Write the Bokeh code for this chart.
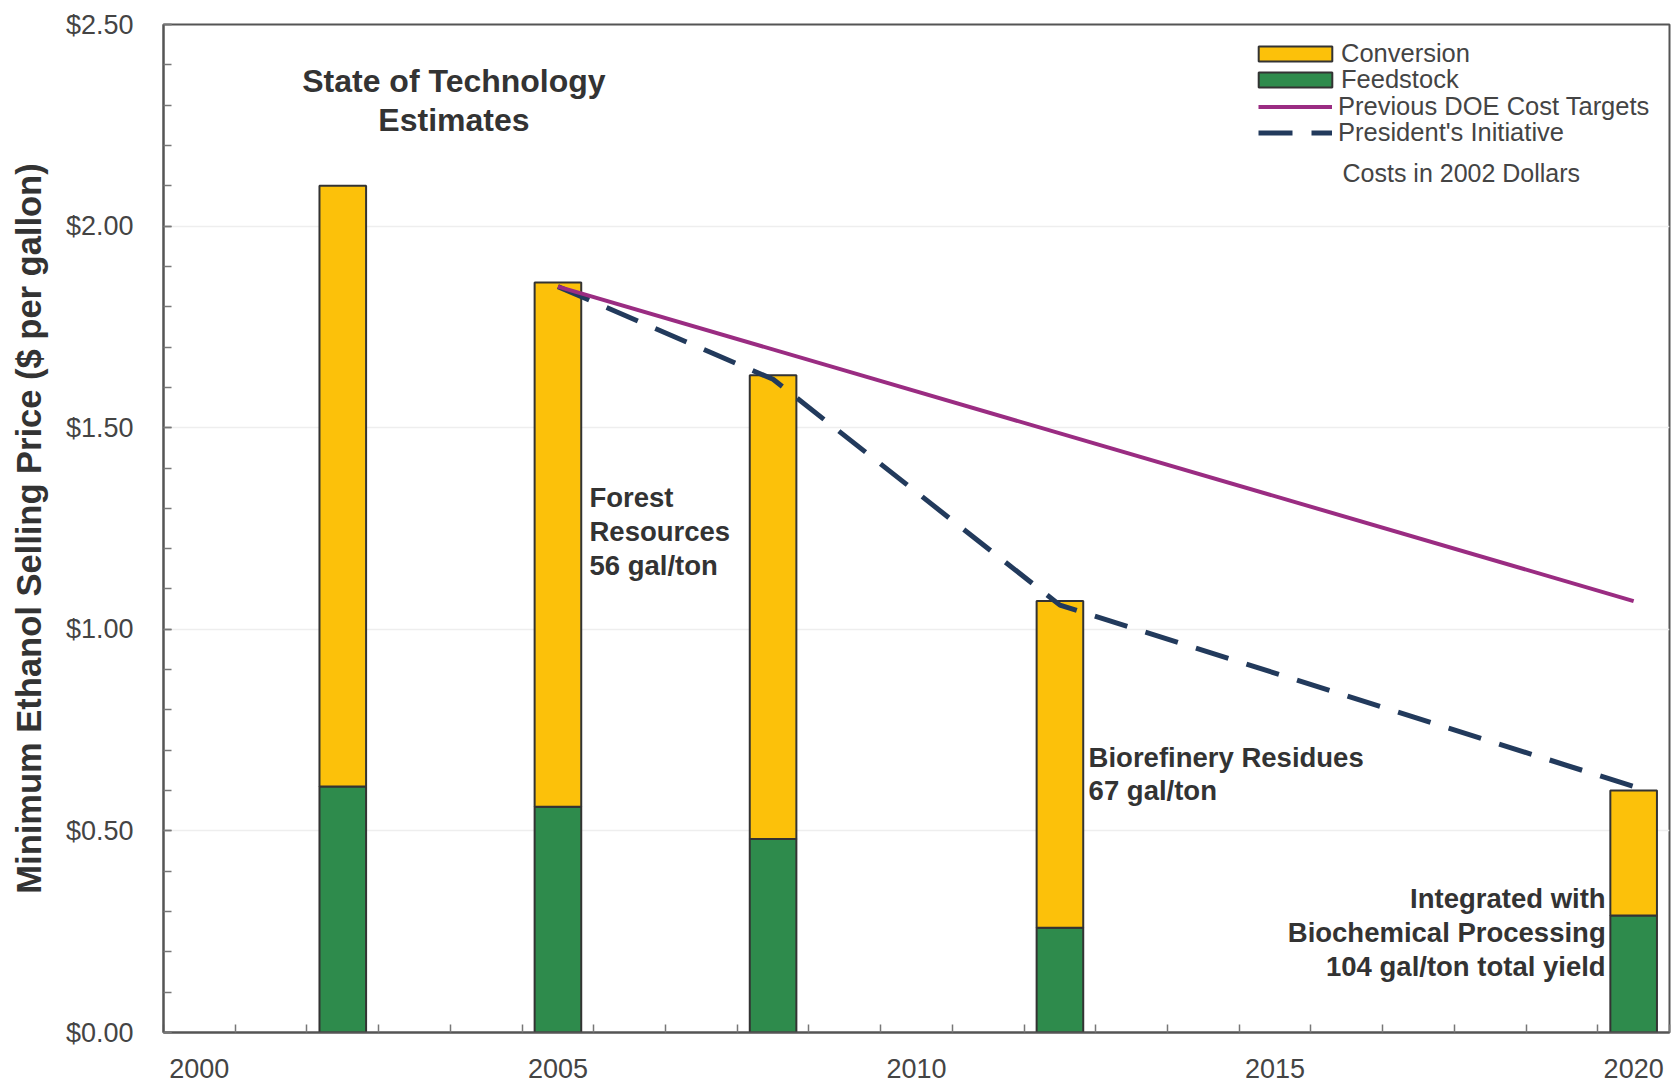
from bokeh.plotting import figure
from bokeh.models import (ColumnDataSource, Label, Legend, LegendItem, FixedTicker,
                          NumeralTickFormatter, Range1d)
from bokeh.embed import file_html
from bokeh.resources import INLINE

# ---- data ----
years = [2002, 2005, 2008, 2012, 2020]
feedstock = [0.61, 0.56, 0.48, 0.26, 0.29]
conversion = [1.49, 1.30, 1.15, 0.81, 0.31]

doe_years = [2005, 2020]
doe_targets = [1.85, 1.07]

pi_years = [2005, 2008, 2012, 2020]
pi_targets = [1.85, 1.62, 1.06, 0.61]

x_labels = [2000, 2005, 2010, 2015, 2020]
y_labels = [0.0, 0.5, 1.0, 1.5, 2.0, 2.5]

FONT = "Liberation Sans"
YELLOW = "#FCC10A"
GREEN = "#2E8B4C"
PURPLE = "#9A2C82"
NAVY = "#223A5C"

src = ColumnDataSource(dict(year=years, feedstock=feedstock, conversion=conversion))

p = figure(width=1672, height=1085,
           x_range=Range1d(1999.5, 2020.5), y_range=Range1d(0, 2.5),
           output_backend="svg", toolbar_location=None,
           min_border_left=163, min_border_right=3, min_border_top=24, min_border_bottom=53)

p.background_fill_color = "white"
p.border_fill_color = "white"
p.outline_line_color = "#555555"
p.outline_line_width = 2

bars = p.vbar_stack(["feedstock", "conversion"], x="year", width=0.65, source=src,
                    fill_color=[GREEN, YELLOW], line_color="#333333", line_width=2)

r_pi = p.line(pi_years, pi_targets, line_color=NAVY, line_width=5, line_dash="34 19")
r_doe = p.line(doe_years, doe_targets, line_color=PURPLE, line_width=4)

# ---- axes ----
xa = p.xaxis[0]
xa.ticker = FixedTicker(ticks=x_labels, minor_ticks=[1999.5 + k for k in range(22)])
xa.major_tick_line_color = None
xa.minor_tick_in = 8
xa.minor_tick_out = 0
xa.minor_tick_line_color = "#777777"
xa.minor_tick_line_width = 1.5
xa.axis_line_color = "#555555"
xa.axis_line_width = 2
xa.major_label_text_font = FONT
xa.major_label_text_font_size = "27px"
xa.major_label_text_color = "#444444"
xa.major_label_standoff = 20

ya = p.yaxis[0]
ya.ticker = FixedTicker(ticks=y_labels, minor_ticks=[k / 10 for k in range(26)])
ya.formatter = NumeralTickFormatter(format="$0.00")
ya.major_tick_in = 8
ya.major_tick_out = 0
ya.minor_tick_in = 8
ya.minor_tick_out = 0
ya.major_tick_line_color = "#777777"
ya.minor_tick_line_color = "#777777"
ya.major_tick_line_width = 1.5
ya.minor_tick_line_width = 1.5
ya.axis_line_color = "#555555"
ya.axis_line_width = 2
ya.major_label_text_font = FONT
ya.major_label_text_font_size = "27px"
ya.major_label_text_color = "#444444"
ya.major_label_standoff = 30
ya.axis_label = "Minimum Ethanol Selling Price ($ per gallon)"
ya.axis_label_text_font = FONT
ya.axis_label_text_font_style = "bold"
ya.axis_label_text_font_size = "34.5px"
ya.axis_label_text_color = "#333333"
ya.axis_label_standoff = 15

p.xgrid.grid_line_color = None
p.ygrid.grid_line_color = "#EEEEEE"
p.ygrid.grid_line_width = 1.5

# ---- legend (one box per row for exact row spacing) ----
def add_legend_row(label, renderer, loc, gw, standoff):
    lg = Legend(items=[LegendItem(label=label, renderers=[renderer])],
                location=loc, padding=0, margin=0,
                border_line_color=None, background_fill_alpha=0,
                glyph_width=gw, glyph_height=19, label_standoff=standoff,
                label_text_font=FONT, label_text_font_size="25.5px",
                label_text_color="#444444")
    p.add_layout(lg)

add_legend_row("Conversion", bars[1], (1086, 964), 92, 0)
add_legend_row("Feedstock", bars[0], (1086, 938), 92, 0)
add_legend_row("Previous DOE Cost Targets", r_doe, (1095, 911), 74, 6)
add_legend_row("President's Initiative", r_pi, (1095, 885), 74, 6)

# ---- annotations ----
def add_label(x, y, text, align, size, bold=True, color="#333333", lh=1.09):
    p.add_layout(Label(x=x, y=y, text=text, text_align=align, text_baseline="middle",
                       text_font=FONT, text_font_style="bold" if bold else "normal",
                       text_font_size=size, text_color=color, text_line_height=lh))

add_label(2003.55, 2.311, "State of Technology\nEstimates", "center", "32px", lh=1.07)
add_label(2005.44, 1.243, "Forest\nResources\n56 gal/ton", "left", "27.5px")
add_label(2012.40, 0.641, "Biorefinery Residues\n67 gal/ton", "left", "27.5px")
add_label(2019.61, 0.248, "Integrated with\nBiochemical Processing\n104 gal/ton total yield", "right", "27.5px")
add_label(2015.94, 2.131, "Costs in 2002 Dollars", "left", "25px", bold=False, color="#444444")

open("out.html", "w").write(file_html(p, INLINE))
